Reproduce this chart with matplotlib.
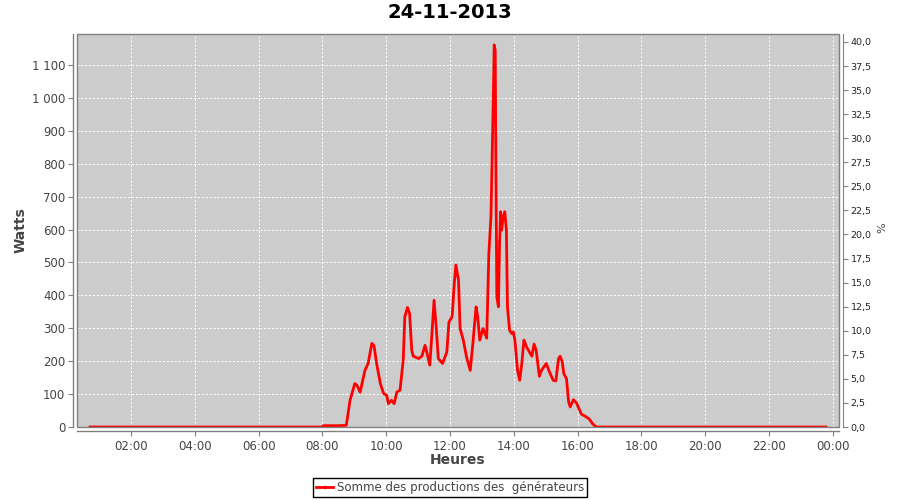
import matplotlib
matplotlib.use('Agg')
import matplotlib.pyplot as plt
import numpy as np
from matplotlib.patches import Rectangle
from matplotlib.lines import Line2D
from matplotlib.ticker import FuncFormatter

# ---- data ----
times = ["00:43", "01:00", "02:00", "03:00", "04:00", "05:00", "06:00", "07:00",
         "08:00", "08:02", "08:30", "08:45",
         "08:52", "09:01", "09:05", "09:11", "09:20", "09:26", "09:33", "09:37",
         "09:42", "09:49", "09:55", "10:01", "10:04", "10:10", "10:15", "10:20",
         "10:26", "10:32", "10:35", "10:40", "10:44", "10:48", "10:51", "11:01",
         "11:07", "11:13", "11:17", "11:22", "11:26", "11:30", "11:34", "11:38",
         "11:46", "11:54", "11:58", "12:04", "12:08", "12:11", "12:16", "12:19",
         "12:25", "12:31", "12:38", "12:43", "12:49", "12:52", "12:56", "13:02",
         "13:09", "13:13", "13:17", "13:19", "13:22", "13:23", "13:25", "13:26",
         "13:28", "13:31", "13:33", "13:35", "13:37", "13:40", "13:43", "13:46",
         "13:48", "13:52", "13:56", "13:59", "14:02", "14:07", "14:11", "14:15",
         "14:19", "14:24", "14:31", "14:34", "14:38", "14:42", "14:48", "14:52",
         "15:01", "15:07", "15:14", "15:19", "15:24", "15:27", "15:31", "15:34",
         "15:39", "15:43", "15:46", "15:52", "15:58", "16:01", "16:07", "16:15",
         "16:22", "16:28", "16:35",
         "17:00", "18:00", "19:00", "20:00", "21:00", "22:00", "23:00", "23:47"]
watts = [0, 0, 0, 0, 0, 0, 0, 0,
         0, 4, 4, 5,
         81, 132, 127, 106, 172, 193, 254, 248,
         193, 132, 102, 96, 71, 81, 71, 106,
         112, 203, 335, 363, 345, 233, 215, 208,
         215, 248, 223, 188, 284, 385, 304, 208,
         193, 228, 319, 335, 436, 492, 446, 299,
         264, 213, 172, 254, 365, 335, 264, 299,
         270, 527, 639, 801, 1054, 1161, 1145, 852,
         395, 365, 547, 654, 598, 639, 654, 598,
         365, 294, 284, 289, 264, 172, 142, 193,
         264, 243, 223, 215, 252, 233, 154, 172,
         193, 167, 142, 140, 208, 215, 198, 162,
         147, 76, 61, 83, 73, 61, 39, 32,
         24, 10, 0,
         0, 0, 0, 0, 0, 0, 0, 0]
x_ticks = [2, 4, 6, 8, 10, 12, 14, 16, 18, 20, 22, 24]
x_tick_labels = ["02:00", "04:00", "06:00", "08:00", "10:00", "12:00",
                 "14:00", "16:00", "18:00", "20:00", "22:00", "00:00"]
w_ticks = list(range(0, 1101, 100))
pct_ticks = list(np.arange(0, 40.01, 2.5))

title = "24-11-2013"
series_name = "Somme des productions des  générateurs"


def to_hours(s):
    h, m = s.split(":")
    return int(h) + int(m) / 60.0


hours = [to_hours(t) for t in times]

W, H = 900, 500
fig = plt.figure(figsize=(9, 5), dpi=100)
fig.patch.set_facecolor('white')

L, R, T, B = 77, 839, 34, 427
ax = fig.add_axes([L / W, 1 - B / H, (R - L) / W, (B - T) / H])
ax.set_facecolor('#cccccc')

ax.plot(hours, watts, color='#ff0000', lw=2.0, solid_joinstyle='round', zorder=3)

ax.set_xlim(0.31, 24.19)
ax.set_ylim(0, 1194)

txt_col = '#444444'
ax_col = '#808080'
off = 4 * 0.72

ax.set_xticks(x_ticks)
ax.set_xticklabels(x_tick_labels)
ax.set_yticks(w_ticks)
ax.yaxis.set_major_formatter(FuncFormatter(lambda v, p: "{:,}".format(int(v)).replace(",", " ")))
ax.tick_params(axis='both', colors=ax_col, labelcolor=txt_col, labelsize=8.5,
               length=3.5, width=0.8, direction='out', pad=2)
ax.tick_params(axis='x', pad=3)

ax.grid(True, color='white', linestyle=(0, (2, 2)), lw=0.7)
ax.set_axisbelow(True)

for s in ['top', 'right']:
    ax.spines[s].set_visible(False)
for s in ['left', 'bottom']:
    ax.spines[s].set_position(('outward', off))
    ax.spines[s].set_color(ax_col)
    ax.spines[s].set_linewidth(1.0)

outline = Rectangle((0, 0), 1, 1, transform=ax.transAxes, fill=False,
                    edgecolor='#808080', lw=1.0, clip_on=False, zorder=5)
ax.add_patch(outline)

ax2 = ax.twinx()
ax2.set_ylim(0, 40.83)
ax2.set_yticks(pct_ticks)
ax2.yaxis.set_major_formatter(FuncFormatter(lambda v, p: "{:.1f}".format(v).replace(".", ",")))
ax2.tick_params(axis='y', colors=ax_col, labelcolor='#222222', labelsize=6.8,
                length=3.5, width=0.8, direction='out', pad=2)
for s in ['top', 'left', 'bottom']:
    ax2.spines[s].set_visible(False)
ax2.spines['right'].set_position(('outward', off))
ax2.spines['right'].set_color(ax_col)

fig.text(450 / W, 1 - 13 / H, title, ha='center', va='center',
         fontsize=14, fontweight='bold', color='black')
fig.text(21 / W, 1 - 230 / H, "Watts", rotation=90, ha='center', va='center',
         fontsize=10, fontweight='bold', color=txt_col)
fig.text(458 / W, 1 - 460 / H, "Heures", ha='center', va='center',
         fontsize=10, fontweight='bold', color=txt_col)
fig.text(882 / W, 1 - 228 / H, "%", rotation=90, ha='center', va='center',
         fontsize=8, color=txt_col)

handle = Line2D([], [], color='#ff0000', lw=2, marker='.', markersize=3)
leg = fig.legend([handle], [series_name], loc='center',
                 bbox_to_anchor=(450 / W, 1 - 487.5 / H), frameon=True,
                 fancybox=False, edgecolor='black', framealpha=1,
                 borderpad=0.25, handlelength=1.5, handletextpad=0.3,
                 prop={'size': 8.5})
leg.get_frame().set_linewidth(1.0)
for t in leg.get_texts():
    t.set_color(txt_col)

fig.savefig('out.png', dpi=100)
